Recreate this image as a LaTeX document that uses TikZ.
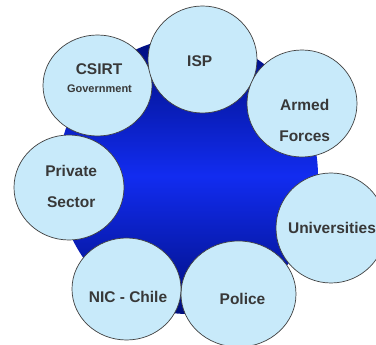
\documentclass[tikz,border=0pt]{standalone}
\usepackage{fontspec}
\setmainfont{Liberation Sans}
\usetikzlibrary{shapes.geometric}
\definecolor{bubblefill}{RGB}{200,234,250}
\definecolor{rim}{RGB}{64,64,64}
\definecolor{ink}{RGB}{56,56,56}
\definecolor{hubdark}{RGB}{0,14,125}
\definecolor{hubbright}{RGB}{18,44,240}
\begin{document}
\begin{tikzpicture}[x=1pt,y=-1pt,
  bubble/.style={ellipse, draw=rim, line width=0.7pt, fill=bubblefill, inner sep=0pt},
  lbl/.style={font=\bfseries\fontsize{15.5}{18}\selectfont, text=ink, anchor=base, inner sep=0pt},
  sublbl/.style={font=\bfseries\fontsize{11}{13}\selectfont, text=ink, anchor=base, inner sep=0pt}]
\useasboundingbox (0,0) rectangle (376,345);
\fill[white] (0,0) rectangle (376,345);
\clip (0,0) rectangle (376,345);
\node[ellipse, minimum width=260pt, minimum height=276pt, inner sep=0pt,
  top color=hubdark, bottom color=hubdark, middle color=hubbright] (hub) at (188,176) {};
\node[bubble, minimum width=109pt, minimum height=101pt] (csirt) at (97.5,85.5) {};
\node[bubble, minimum width=109pt, minimum height=107pt] (isp) at (202.5,59.5) {};
\node[bubble, minimum width=110pt, minimum height=107pt] (armed) at (302,103.5) {};
\node[bubble, minimum width=110pt, minimum height=110pt] (univ) at (331,228) {};
\node[bubble, minimum width=115pt, minimum height=106pt] (police) at (238.5,294) {};
\node[bubble, minimum width=109pt, minimum height=102pt] (nic) at (126.5,289) {};
\node[bubble, minimum width=110pt, minimum height=105pt] (private) at (69,187.5) {};
\node[lbl] (tcsirt) at (99,75) {CSIRT};
\node[sublbl] (tgov) at (99.5,92.5) {Government};
\node[lbl] (tisp) at (199.7,66.7) {ISP};
\node[lbl] (tarmed) at (304.7,110.7) {Armed};
\node[lbl] (tforces) at (304.7,141.7) {Forces};
\node[lbl] (tprivate) at (71.2,176.7) {Private};
\node[lbl] (tsector) at (71.2,207.7) {Sector};
\node[lbl] (tuniv) at (332,234) {Universities};
\node[lbl] (tnic) at (128,302.3) {NIC - Chile};
\node[lbl] (tpolice) at (242.5,304.7) {Police};
\end{tikzpicture}
\end{document}
